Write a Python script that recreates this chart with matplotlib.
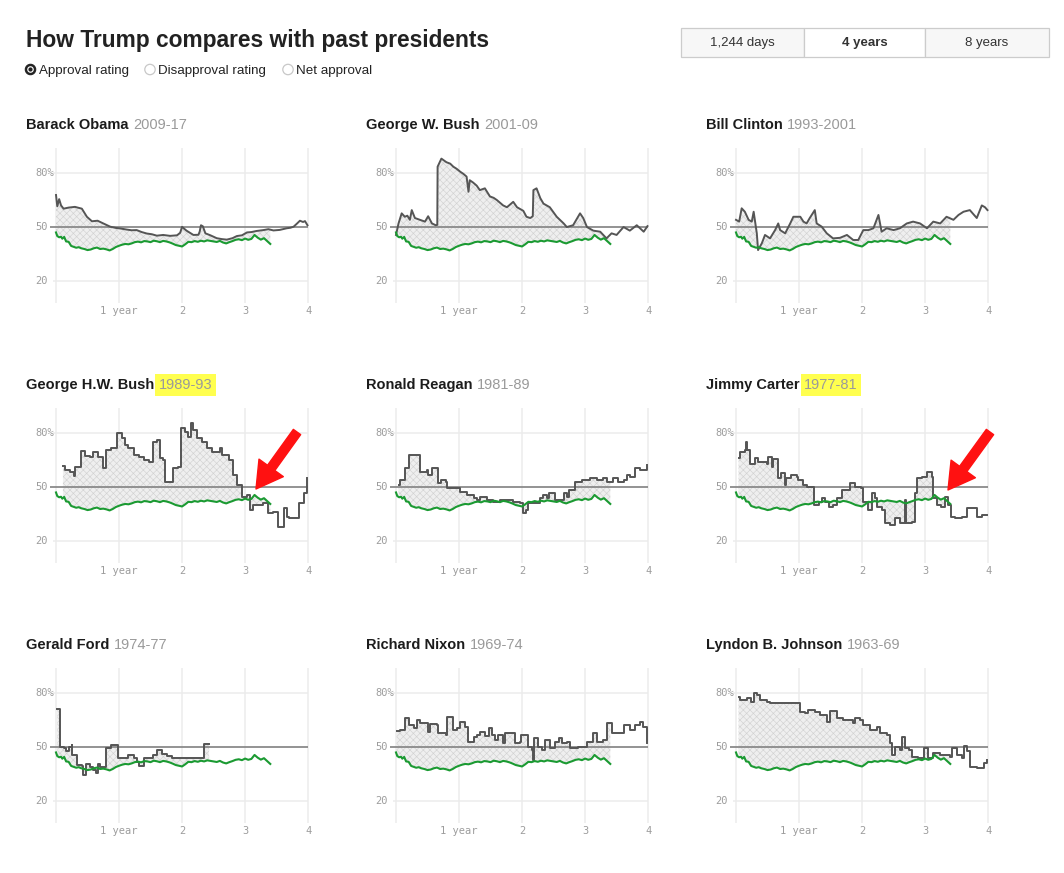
import numpy as np
import matplotlib.pyplot as plt
from matplotlib.patches import FancyArrowPatch, Rectangle, Circle
import matplotlib.transforms as mtransforms

W, H = 1064, 873

# Trump, aprobacion (anos desde la investidura, %)
trump_years = [0, 0.02, 0.05, 0.08, 0.10, 0.13, 0.16, 0.20, 0.24, 0.28, 0.32, 0.36, 0.40, 0.45,
               0.50, 0.55, 0.60, 0.65, 0.70, 0.75, 0.80, 0.85, 0.90, 0.95, 1.00, 1.05, 1.10, 1.15,
               1.20, 1.25, 1.30, 1.35, 1.40, 1.45, 1.50, 1.55, 1.60, 1.65, 1.70, 1.75, 1.80, 1.85,
               1.90, 1.95, 2.00, 2.05, 2.10, 2.15, 2.20, 2.25, 2.30, 2.35, 2.40, 2.45, 2.50, 2.55,
               2.60, 2.65, 2.70, 2.75, 2.80, 2.85, 2.90, 2.95, 3.00, 3.05, 3.10, 3.15, 3.20, 3.25,
               3.30, 3.35, 3.40]
trump_approval = [47.0, 45.0, 44.3, 44.6, 43.5, 44.5, 42.0, 41.8, 39.5, 39.0, 38.5, 38.8, 38.2, 37.8,
                  37.2, 37.5, 38.2, 38.6, 37.8, 38.0, 37.6, 37.0, 37.8, 38.9, 39.6, 40.2, 40.6, 40.4,
                  40.9, 41.6, 41.9, 41.5, 42.2, 42.0, 41.6, 42.4, 42.1, 41.6, 42.3, 42.0, 41.5, 40.8,
                  40.0, 39.6, 39.2, 40.4, 41.8, 41.6, 42.2, 41.8, 42.4, 42.0, 42.6, 42.3, 42.0, 41.7,
                  42.3, 41.4, 40.9, 41.6, 42.2, 42.9, 43.2, 42.7, 43.6, 42.9, 43.4, 45.6, 44.1, 43.0,
                  43.8, 42.2, 40.6]

# presidentes anteriores: (anos, aprobacion %)
obama = [(0, 67.8), (0.02, 61.5), (0.05, 65.5), (0.08, 62), (0.12, 60.2), (0.2, 60.8), (0.3, 61.2),
         (0.41, 60.2), (0.49, 55.7), (0.57, 53.2), (0.66, 53.5), (0.75, 52), (0.86, 50.2), (0.95, 49.5),
         (1.02, 49.2), (1.12, 48.6), (1.2, 48.2), (1.28, 48.3), (1.36, 47.2), (1.44, 46.4), (1.52, 46),
         (1.6, 45.2), (1.7, 45.6), (1.81, 45.1), (1.92, 45.4), (1.97, 46.8), (2.0, 50.1), (2.04, 48.9),
         (2.07, 48), (2.18, 45.6), (2.26, 45.7), (2.28, 47.5), (2.30, 51), (2.33, 50.4), (2.37, 46.5),
         (2.45, 45.4), (2.55, 43.8), (2.63, 43.3), (2.71, 43), (2.8, 43.8), (2.87, 45), (2.95, 45.4),
         (3.03, 47), (3.1, 47.2), (3.18, 47.8), (3.29, 48.3), (3.37, 48.8), (3.45, 48.1), (3.55, 48.4),
         (3.66, 49.3), (3.72, 49.6), (3.77, 50.2), (3.82, 51.8), (3.87, 53.5), (3.92, 52.8),
         (3.95, 53.3), (3.99, 51)]
bush43 = [(0, 45.6), (0.04, 52), (0.09, 57.6), (0.14, 55.7), (0.18, 56.3), (0.22, 54), (0.25, 59.4),
          (0.30, 55), (0.38, 54), (0.46, 53), (0.51, 56), (0.57, 52), (0.63, 51), (0.655, 51.2),
          (0.66, 83.5), (0.72, 88), (0.80, 86), (0.86, 85.2), (0.91, 83.5), (0.96, 82.4), (1.02, 80.7),
          (1.07, 79.5), (1.12, 78), (1.15, 69.6), (1.17, 76), (1.22, 74.8), (1.28, 73), (1.33, 70.5),
          (1.41, 71.5), (1.49, 67), (1.55, 66.2), (1.60, 65), (1.70, 62), (1.76, 61), (1.86, 64),
          (1.92, 61), (2.02, 59), (2.07, 55.7), (2.13, 55), (2.17, 56), (2.18, 70.5), (2.23, 71.5),
          (2.29, 66), (2.34, 63), (2.44, 61), (2.55, 55.7), (2.66, 52), (2.71, 50), (2.81, 51),
          (2.92, 57.6), (2.97, 55), (3.03, 50), (3.13, 48), (3.24, 47.4), (3.34, 43.7), (3.42, 46.5),
          (3.50, 45.6), (3.61, 50), (3.71, 48), (3.82, 51), (3.93, 47.4), (3.99, 50.5)]
clinton = [(0, 54), (0.05, 53), (0.09, 60.4), (0.14, 58.5), (0.20, 54), (0.25, 53), (0.28, 58.5),
           (0.33, 46.5), (0.35, 37.2), (0.41, 41), (0.46, 45.6), (0.54, 43.7), (0.62, 48.3), (0.67, 52),
           (0.70, 48.3), (0.78, 46.5), (0.86, 52), (0.91, 55.7), (1.02, 55.7), (1.07, 53), (1.12, 52),
           (1.17, 55), (1.25, 59.4), (1.28, 52), (1.36, 50.2), (1.44, 46.5), (1.54, 43.7), (1.65, 44),
           (1.76, 45.6), (1.86, 42.8), (1.94, 42.8), (2.02, 48.3), (2.10, 48.3), (2.18, 49.3),
           (2.26, 56.7), (2.31, 47.4), (2.39, 49.3), (2.50, 48.3), (2.60, 49.3), (2.71, 52), (2.81, 53),
           (2.92, 52), (3.03, 49.3), (3.13, 53), (3.24, 52), (3.34, 55.7), (3.45, 54), (3.53, 56.7),
           (3.61, 58.5), (3.71, 59.4), (3.82, 55), (3.90, 62), (3.95, 61), (3.99, 59.4)]
ghw_bush = [(0.11, 61.9), (0.14, 59.4), (0.22, 58.5), (0.28, 56), (0.30, 61.3), (0.39, 70), (0.46, 67),
            (0.54, 66.5), (0.59, 69.6), (0.67, 66.8), (0.74, 60.4), (0.80, 70.5), (0.88, 71.5),
            (0.96, 79.8), (1.04, 77), (1.10, 73.3), (1.15, 71.5), (1.23, 67.8), (1.31, 66.8), (1.39, 65),
            (1.47, 64), (1.54, 75.2), (1.60, 76), (1.65, 66), (1.70, 65), (1.73, 53), (1.81, 53),
            (1.86, 60.4), (1.94, 61.3), (1.99, 82.6), (2.05, 80.7), (2.10, 78), (2.14, 85.7),
            (2.18, 81.7), (2.23, 77), (2.31, 75.2), (2.39, 71.5), (2.47, 69.6), (2.60, 71.5),
            (2.63, 67.8), (2.74, 65), (2.81, 56.7), (2.87, 51), (2.95, 44.6), (3.03, 45.6), (3.08, 37.2),
            (3.13, 40), (3.29, 41), (3.37, 35.4), (3.45, 36.3), (3.53, 28), (3.61, 38.1), (3.66, 33.5),
            (3.69, 32.6), (3.85, 41), (3.93, 46.5), (3.99, 54.8)]
reagan = [(0.04, 51), (0.06, 54), (0.14, 60.4), (0.21, 67.8), (0.38, 58.5), (0.49, 59.4), (0.51, 56.7),
          (0.57, 60.4), (0.66, 52), (0.72, 54), (0.79, 53), (0.81, 49.3), (1.02, 47.4), (1.12, 45.6),
          (1.23, 43.7), (1.28, 42.8), (1.33, 44.6), (1.44, 42.8), (1.54, 41.9), (1.65, 42.8),
          (1.76, 42.8), (1.86, 41.9), (1.97, 40.9), (2.02, 35.4), (2.07, 37.2), (2.10, 40.9),
          (2.29, 43.7), (2.34, 45.6), (2.39, 43.7), (2.42, 46.9), (2.52, 42.8), (2.66, 46.5),
          (2.71, 44.6), (2.74, 48.3), (2.84, 53), (2.95, 54), (3.08, 54.8), (3.19, 54), (3.29, 54.8),
          (3.34, 53), (3.45, 54.8), (3.53, 53), (3.61, 54), (3.66, 56.7), (3.71, 55.7), (3.79, 60.4),
          (3.87, 59.4), (3.98, 62.2)]
carter = [(0.04, 65.9), (0.06, 69.6), (0.14, 70.5), (0.16, 75.2), (0.18, 70.5), (0.22, 63), (0.30, 65.9),
          (0.35, 64), (0.49, 62.8), (0.51, 66.8), (0.57, 61.3), (0.58, 65.4), (0.66, 54.8), (0.72, 57.6),
          (0.78, 51), (0.80, 54.8), (0.88, 56.7), (0.96, 55.7), (0.99, 53.9), (1.07, 51), (1.12, 49.8),
          (1.23, 40), (1.31, 41.9), (1.36, 43.7), (1.41, 41.9), (1.47, 39), (1.54, 40), (1.60, 43.7),
          (1.68, 48.3), (1.81, 52), (1.89, 50.2), (1.99, 49.3), (2.02, 41.9), (2.10, 37.2), (2.15, 46.5),
          (2.21, 43.7), (2.23, 39), (2.31, 37.2), (2.37, 29.8), (2.44, 28.9), (2.52, 32.6), (2.60, 29.8),
          (2.68, 42.8), (2.70, 29.8), (2.79, 30.7), (2.84, 46.5), (2.87, 54.8), (2.95, 55.7),
          (3.03, 58.5), (3.11, 55.7), (3.13, 43.7), (3.19, 40), (3.26, 39), (3.31, 44.6), (3.37, 40),
          (3.41, 33.5), (3.48, 32.6), (3.58, 33.5), (3.66, 38.1), (3.82, 33.5), (3.90, 34.4),
          (3.99, 34.4)]
ford = [(0.02, 71.1), (0.07, 50), (0.12, 49.3), (0.16, 48), (0.20, 50.2), (0.25, 51), (0.26, 45.6),
        (0.33, 45), (0.34, 40), (0.42, 39.4), (0.43, 34.4), (0.48, 40.6), (0.54, 38.7), (0.59, 37.2),
        (0.63, 35.4), (0.66, 40.6), (0.70, 38.7), (0.80, 49.6), (0.88, 51), (0.98, 43.7), (1.15, 45.6),
        (1.23, 43.7), (1.28, 41.9), (1.31, 39.4), (1.40, 44), (1.54, 45.6), (1.60, 48.3), (1.68, 46),
        (1.76, 45), (1.84, 43.7), (2.35, 51.5), (2.43, 51.5)]
nixon = [(0.01, 59), (0.07, 59.4), (0.14, 65.9), (0.20, 62.2), (0.28, 60.4), (0.33, 65), (0.38, 63.1),
         (0.51, 58.5), (0.54, 62.8), (0.65, 62.2), (0.67, 57.6), (0.79, 56.7), (0.81, 66.9), (0.90, 59.4),
         (0.96, 60.4), (1.02, 64), (1.10, 61.3), (1.15, 53), (1.23, 55.7), (1.28, 56.7), (1.33, 58.5),
         (1.41, 56.1), (1.47, 60.4), (1.52, 56.7), (1.57, 54), (1.62, 56.7), (1.70, 52), (1.73, 57.6),
         (1.89, 52.4), (1.97, 53), (1.99, 56.7), (2.10, 50.2), (2.15, 48.3), (2.18, 42.8), (2.19, 54.8),
         (2.26, 50.2), (2.31, 48.3), (2.37, 54), (2.44, 49.3), (2.52, 53), (2.59, 54.8), (2.63, 52),
         (2.71, 53), (2.76, 49.3), (2.89, 49.8), (3.03, 53), (3.13, 57.6), (3.19, 53), (3.29, 54),
         (3.34, 63.1), (3.42, 57.6), (3.61, 62.2), (3.71, 59.4), (3.79, 62.2), (3.87, 64), (3.92, 61.3),
         (3.99, 52)]
lbj = [(0.04, 78), (0.06, 76.1), (0.17, 77), (0.23, 75.2), (0.28, 79.8), (0.33, 78.9), (0.38, 76.1),
       (0.49, 75.2), (0.54, 74.3), (1.02, 69.6), (1.10, 69), (1.15, 70.6), (1.25, 69.6), (1.33, 67.8),
       (1.44, 64), (1.49, 70.2), (1.60, 66), (1.70, 65), (1.86, 63.1), (1.89, 66), (1.97, 65),
       (2.02, 62.2), (2.13, 59.4), (2.23, 61.3), (2.29, 57.6), (2.39, 56.7), (2.44, 52), (2.47, 45.6),
       (2.52, 50.2), (2.60, 48.3), (2.63, 55.7), (2.68, 49.3), (2.74, 48.3), (2.79, 44.6), (2.89, 43.7),
       (2.98, 49.3), (3.05, 43.7), (3.13, 46.5), (3.24, 45.6), (3.40, 44.6), (3.42, 49.3), (3.50, 45.6),
       (3.58, 43.7), (3.61, 50.6), (3.66, 48), (3.71, 39), (3.82, 38.1), (3.93, 41), (3.99, 42.8)]

presidents = [obama, bush43, clinton, ghw_bush, reagan, carter, ford, nixon, lbj]
names = ["Barack Obama", "George W. Bush", "Bill Clinton", "George H.W. Bush", "Ronald Reagan",
         "Jimmy Carter", "Gerald Ford", "Richard Nixon", "Lyndon B. Johnson"]
terms = ["2009-17", "2001-09", "1993-2001", "1989-93", "1981-89", "1977-81", "1974-77", "1969-74",
         "1963-69"]
# encuestas diarias (linea) o esporadicas (escalones)
stepped = [False, False, False, True, True, True, True, True, True]
highlighted = ["1989-93", "1977-81"]
# flechas rojas: panel -> (cola, punta) en pixeles relativos al titulo
arrows = {"George H.W. Bush": ((271, 172), (230, 229)),
          "Jimmy Carter": ((284, 172), (242, 230))}

y_ticks = [80, 50, 20]
y_tick_labels = ["80%", "50", "20"]
x_ticks = [1, 2, 3, 4]
x_tick_labels = ["1 year", "2", "3", "4"]
options = ["Approval rating", "Disapproval rating", "Net approval"]
buttons = ["1,244 days", "4 years", "8 years"]
title = "How Trump compares with past presidents"

GRID = "#ececec"
PRES = "#555555"
GREEN = "#1b9a32"
MONO = "DejaVu Sans Mono"
SANS = "Liberation Sans"

plt.rcParams["hatch.linewidth"] = 0.45


def steps(x, y):
    # cada valor se mantiene hasta el siguiente punto
    xs = np.repeat(x, 2)[1:]
    ys = np.repeat(y, 2)[:-1]
    return xs, ys


def hold(x, y, at):
    i = np.searchsorted(x, at, side="right") - 1
    return y[max(i, 0)]


tx = np.array(trump_years)
ty = np.array(trump_approval)

fig = plt.figure(figsize=(W / 100, H / 100), dpi=100)
fig.patch.set_facecolor("white")

for k, pres in enumerate(presidents):
    r, c = divmod(k, 3)
    ax = fig.add_axes([(35 + 340 * c) / W, (H - (303 + 260 * r)) / H, 275 / W, 155 / H])
    ax.set_xlim(-1 / 3, 4.03)
    ax.set_ylim(7.8, 93.9)
    ax.axis("off")

    for xv in [0] + x_ticks:
        ax.axvline(xv, color=GRID, lw=1.1, zorder=0)
    ax.hlines([20, 80], -0.05, 4, color=GRID, lw=1.1, zorder=0)
    ax.hlines(50, -0.1, 4, color="#8a8a8a", lw=1.3, zorder=2)

    for v, lab in zip(y_ticks, y_tick_labels):
        ax.text(-1 / 3, v, lab, ha="left", va="center", family=MONO, fontsize=7.5, color="#9c9c9c")
    trans = mtransforms.blended_transform_factory(ax.transData, ax.transAxes)
    for v, lab in zip(x_ticks, x_tick_labels):
        ax.text(v, -0.052, lab, transform=trans, ha="center", va="center", family=MONO,
                fontsize=7.5, color="#9c9c9c")

    px = np.array([p[0] for p in pres])
    py = np.array([p[1] for p in pres])

    # zona sombreada entre el presidente y Trump
    start = max(px[0], tx[0])
    end = min(px[-1], tx[-1])
    m = (px >= start) & (px <= end)
    ex = np.append(px[m], end)
    ey = np.append(py[m], hold(px, py, end))
    if stepped[k]:
        ex, ey = steps(ex, ey)
    m2 = (tx > start) & (tx < end)
    bx = np.concatenate([[start], tx[m2], [end]])
    by = np.concatenate([[hold(tx, ty, start)], ty[m2], [hold(tx, ty, end)]])
    ax.fill(np.concatenate([ex, bx[::-1]]), np.concatenate([ey, by[::-1]]), facecolor="#efefef",
            edgecolor="#d2d2d2", hatch="xxxxx", linewidth=0, zorder=1)

    ax.plot(px, py, drawstyle="steps-post" if stepped[k] else "default", color=PRES, lw=1.4,
            zorder=3)
    ax.plot(tx, ty, color=GREEN, lw=1.5, zorder=4)

# capa superior en pixeles para textos y adornos
ov = fig.add_axes([0, 0, 1, 1], zorder=10)
ov.set_xlim(0, W)
ov.set_ylim(H, 0)
ov.axis("off")
ov.patch.set_alpha(0)

ov.text(26, 47, title, fontsize=16.4, fontweight="bold", family=SANS, color="#222222",
        va="baseline")

radio_x = [30.5, 150, 288]
for i, (x0, lab) in enumerate(zip(radio_x, options)):
    if i == 0:
        ov.add_patch(Circle((x0, 69.5), 5.2, fc="#222222", ec="#222222", lw=0.8))
        ov.add_patch(Circle((x0, 69.5), 3.3, fc="white", ec="none"))
        ov.add_patch(Circle((x0, 69.5), 2.1, fc="#222222", ec="none"))
    else:
        ov.add_patch(Circle((x0, 69.5), 5.2, fc="white", ec="#c8c8c8", lw=0.9))
    ov.text(x0 + 8.5, 74, lab, fontsize=9.6, family=SANS, color="#222222", va="baseline")

bx0 = [681, 804, 925, 1049]
for i, lab in enumerate(buttons):
    ov.add_patch(Rectangle((bx0[i], 28), bx0[i + 1] - bx0[i], 29,
                           fc="white" if i == 1 else "#f7f7f7", ec="#cccccc", lw=0.9))
    ov.text((bx0[i] + bx0[i + 1]) / 2, 43, lab, ha="center", va="center", family=SANS,
            fontsize=9.5, color="#333333", fontweight="bold" if i == 1 else "normal")

for k, (name, term) in enumerate(zip(names, terms)):
    r, c = divmod(k, 3)
    x0 = 26 + 340 * c
    y0 = 260 * r
    t = ov.text(x0, 129 + y0, name, fontsize=10.5, fontweight="bold", family=SANS,
                color="#1c1c1c", va="baseline")
    box = None
    if term in highlighted:
        box = dict(boxstyle="square,pad=0.25", fc="#ffff4f", ec="none")
    ov.annotate(term, xy=(1, 0), xycoords=t, xytext=(3.3, 0), textcoords="offset points",
                ha="left", va="bottom", fontsize=10.5, family=SANS, color="#9a9a9a", bbox=box)

    if name in arrows:
        (ax0, ay0), (ax1, ay1) = arrows[name]
        ov.add_patch(FancyArrowPatch((x0 + ax0, y0 + ay0), (x0 + ax1, y0 + ay1),
                                     arrowstyle="simple,head_length=2.6,head_width=3.0,tail_width=0.9",
                                     mutation_scale=7.2, color="#ff1111", shrinkA=0, shrinkB=0,
                                     zorder=20))

fig.savefig("out.png", dpi=100)
